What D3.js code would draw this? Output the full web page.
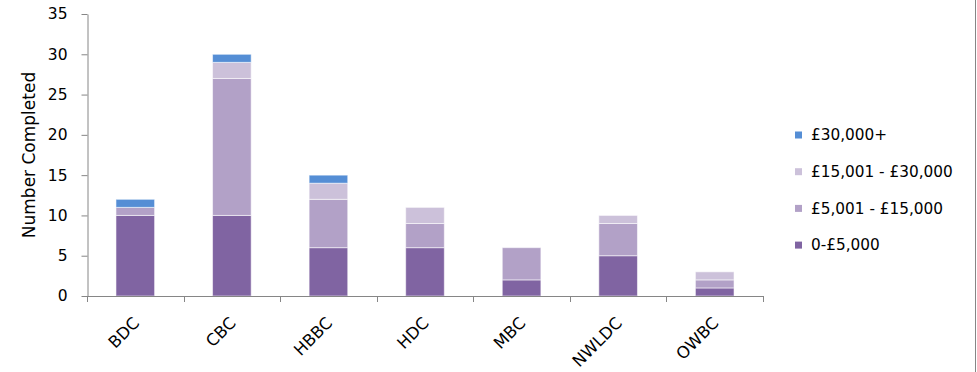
<!DOCTYPE html>
<html>
<head>
<meta charset="utf-8">
<script src="https://cdn.jsdelivr.net/npm/d3@7"></script>
<style>
  html, body { margin: 0; padding: 0; background: #fff; }
  svg text { font-family: "DejaVu Sans", "Liberation Sans", sans-serif; fill: #000; }
</style>
</head>
<body>
<svg id="chart" width="977" height="372"></svg>
<script>
// Councils along the x axis
const categories = ["BDC", "CBC", "HBBC", "HDC", "MBC", "NWLDC", "OWBC"];

// Completed counts per value band, one array per band (bottom to top of stack)
const band0to5k   = [10, 10, 6, 6, 2, 5, 1];
const band5to15k  = [1, 17, 6, 3, 4, 4, 1];
const band15to30k = [0, 2, 2, 2, 0, 1, 1];
const band30kPlus = [1, 1, 1, 0, 0, 0, 0];

const seriesNames = ["0-£5,000", "£5,001 - £15,000", "£15,001 - £30,000", "£30,000+"];
const seriesValues = [band0to5k, band5to15k, band15to30k, band30kPlus];
const seriesColors = ["#8064A2", "#B2A1C7", "#CCC1DA", "#558ED5"];

const yTicks = [0, 5, 10, 15, 20, 25, 30, 35];
const yTitle = "Number Completed";

const svg = d3.select("#chart");

const plot = { left: 87, right: 763, top: 14, bottom: 296 };

const x = d3.scaleBand()
  .domain(categories)
  .range([plot.left, plot.right])
  .paddingInner(0.6)
  .paddingOuter(0.3);

const y = d3.scaleLinear()
  .domain([0, 35])
  .range([plot.bottom, plot.top]);

// Build stack input rows
const rows = categories.map((c, i) => {
  const r = { cat: c };
  seriesNames.forEach((s, j) => { r[s] = seriesValues[j][i]; });
  return r;
});
const stacked = d3.stack().keys(seriesNames)(rows);

// Bars
svg.append("g")
  .selectAll("g")
  .data(stacked)
  .join("g")
  .attr("fill", (d, i) => seriesColors[i])
  .selectAll("rect")
  .data(d => d.filter(p => p[1] > p[0]))
  .join("rect")
  .attr("x", d => x(d.data.cat))
  .attr("width", x.bandwidth())
  .attr("y", d => y(d[1]))
  .attr("height", d => y(d[0]) - y(d[1]))
  .attr("stroke", "rgba(255,255,255,0.55)")
  .attr("stroke-width", 1);

// Y axis
const yAxis = svg.append("g")
  .attr("transform", `translate(${plot.left + 0.5},0)`)
  .call(d3.axisLeft(y).tickValues(yTicks).tickSize(6).tickPadding(14).tickSizeOuter(0));
yAxis.select(".domain").attr("stroke", "#868686");
yAxis.selectAll(".tick line").attr("stroke", "#868686");
yAxis.selectAll(".tick text")
  .attr("font-size", 15.5)
  .attr("font-family", "DejaVu Sans, sans-serif")
  .attr("fill", "#000");

// X axis: ticks at category boundaries
const boundaries = d3.range(categories.length + 1).map(i => plot.left + i * x.step());
const xAxisG = svg.append("g");
xAxisG.append("line")
  .attr("x1", plot.left).attr("x2", plot.right)
  .attr("y1", plot.bottom + 0.5).attr("y2", plot.bottom + 0.5)
  .attr("stroke", "#868686");
xAxisG.selectAll("line.tk")
  .data(boundaries)
  .join("line")
  .attr("class", "tk")
  .attr("x1", d => Math.round(d) + 0.5).attr("x2", d => Math.round(d) + 0.5)
  .attr("y1", plot.bottom).attr("y2", plot.bottom + 6)
  .attr("stroke", "#868686");
xAxisG.selectAll("text")
  .data(categories)
  .join("text")
  .attr("text-anchor", "end")
  .attr("font-size", 16.5)
  .attr("transform", d => `translate(${x(d) + x.bandwidth() / 2 + 5},${plot.bottom + 28}) rotate(-45)`)
  .text(d => d);

// Y axis title
svg.append("text")
  .attr("transform", "translate(35,155) rotate(-90)")
  .attr("text-anchor", "middle")
  .attr("font-size", 17)
  .text(yTitle);

// Legend (top entry is the top of the stack)
const legendOrder = [3, 2, 1, 0];
const legend = svg.append("g");
legendOrder.forEach((si, k) => {
  const cy = 135 + k * 36.7;
  legend.append("rect")
    .attr("x", 795).attr("y", cy - 3.5)
    .attr("width", 7).attr("height", 7)
    .attr("fill", seriesColors[si]);
  legend.append("text")
    .attr("x", 811).attr("y", cy)
    .attr("dy", "0.35em")
    .attr("font-size", 15.3)
    .text(seriesNames[si]);
});

// Chart frame edge on the right
svg.append("line")
  .attr("x1", 975.5).attr("x2", 975.5)
  .attr("y1", 0).attr("y2", 372)
  .attr("stroke", "#868686");
</script>
</body>
</html>
